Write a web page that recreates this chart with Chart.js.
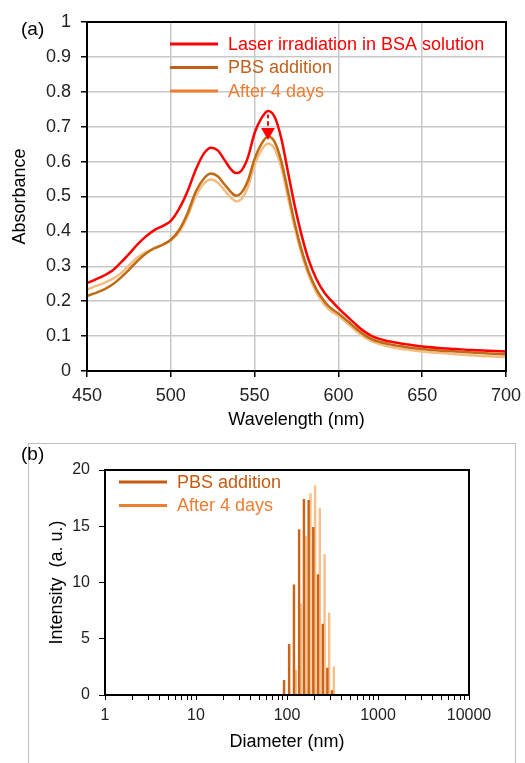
<!DOCTYPE html>
<html>
<head>
<meta charset="utf-8">
<script src="https://cdn.jsdelivr.net/npm/chart.js@4.4.1/dist/chart.umd.min.js"></script>
<style>
  html, body { margin: 0; padding: 0; background: #fff; }
  #wrap { position: relative; width: 525px; height: 763px; overflow: hidden; }
  #boxB { position: absolute; left: 28px; top: 443px; width: 486px; height: 340px; border: 1px solid #BFBFBF; }
  #cA { position: absolute; left: 0; top: 0; }
  #cB { position: absolute; left: 0; top: 440px; }
</style>
</head>
<body>
<div id="wrap">
  <div id="boxB"></div>
  <canvas id="cA" width="525" height="440"></canvas>
  <canvas id="cB" width="525" height="323"></canvas>
</div>
<script>
// ---- (a) absorbance spectra ----
const wavelength = [450, 455, 460, 465, 470, 475, 480, 485, 490, 495, 500, 505, 510, 515, 520, 524, 528, 532, 536, 539, 542, 546, 550, 554, 558, 562, 566, 570, 574, 578, 582, 587, 592, 596, 600, 605, 610, 615, 620, 630, 640, 650, 660, 670, 680, 690, 700]
const laserBSA = [0.252, 0.262, 0.273, 0.287, 0.310, 0.335, 0.362, 0.385, 0.403, 0.415, 0.430, 0.465, 0.515, 0.578, 0.625, 0.640, 0.632, 0.605, 0.577, 0.567, 0.573, 0.612, 0.682, 0.724, 0.745, 0.728, 0.665, 0.568, 0.472, 0.390, 0.322, 0.262, 0.222, 0.200, 0.180, 0.157, 0.135, 0.115, 0.100, 0.085, 0.077, 0.070, 0.066, 0.063, 0.060, 0.058, 0.056]
const pbsAddition = [0.215, 0.223, 0.233, 0.247, 0.267, 0.290, 0.315, 0.336, 0.351, 0.361, 0.376, 0.404, 0.452, 0.515, 0.553, 0.566, 0.558, 0.535, 0.512, 0.502, 0.510, 0.545, 0.608, 0.650, 0.672, 0.656, 0.600, 0.512, 0.422, 0.347, 0.287, 0.233, 0.197, 0.178, 0.165, 0.145, 0.124, 0.105, 0.091, 0.077, 0.069, 0.063, 0.059, 0.056, 0.053, 0.050, 0.048]
const after4Days = [0.233, 0.243, 0.252, 0.263, 0.279, 0.302, 0.325, 0.341, 0.352, 0.362, 0.374, 0.398, 0.443, 0.502, 0.538, 0.549, 0.540, 0.518, 0.496, 0.486, 0.492, 0.527, 0.590, 0.632, 0.652, 0.636, 0.582, 0.496, 0.410, 0.336, 0.277, 0.224, 0.188, 0.170, 0.158, 0.138, 0.117, 0.098, 0.085, 0.070, 0.062, 0.056, 0.052, 0.048, 0.045, 0.042, 0.040]
const arrowWavelength = [558, 558]
const arrowAbsorbance = [0.735, 0.685]

// ---- (b) DLS size distribution ----
const diameters = [95, 108, 122, 139, 157, 177, 199, 224, 253, 284, 320]
const pbsIntensity = [1.3, 4.5, 9.8, 14.7, 17.4, 17.3, 14.9, 10.7, 6.3, 2.4, 0.4]
const after4Intensity = [0, 0, 2.2, 8.1, 14.1, 17.9, 18.6, 16.6, 12.5, 7.3, 2.5]
const diameterTickLabels = [1, 10, 100, 1000, 10000]

const FONT = '"Liberation Sans", Arial, sans-serif'
Chart.defaults.font.family = FONT
Chart.defaults.color = '#222'

const toXY = (xs, ys) => xs.map((x, i) => ({ x, y: ys[i] }))

// frame around the plot, panel letter and an in-plot legend
function makeDecor(cfg) {
  return {
    id: 'decor',
    afterDraw(chart) {
      const { ctx, chartArea: a } = chart
      ctx.save()
      ctx.strokeStyle = '#000'
      ctx.lineWidth = 2
      ctx.strokeRect(a.left, a.top, a.right - a.left, a.bottom - a.top)
      ctx.font = '19px ' + FONT
      ctx.textBaseline = 'middle'
      ctx.textAlign = 'left'
      ctx.fillStyle = '#000'
      ctx.fillText(cfg.label, cfg.labelX, cfg.labelY)
      ctx.font = '18px ' + FONT
      cfg.legend.forEach((item, i) => {
        const y = cfg.legendY + i * cfg.legendGap
        ctx.strokeStyle = item.line
        ctx.lineWidth = 3
        ctx.beginPath()
        ctx.moveTo(cfg.legendX, y)
        ctx.lineTo(cfg.legendX + 48, y)
        ctx.stroke()
        ctx.fillStyle = item.text
        ctx.fillText(chart.data.datasets[item.dataset].label, cfg.legendX + 58, y + 1)
      })
      ctx.restore()
    }
  }
}

// keep the plot edges where the layout padding puts them
const fixX = h => s => { s.height = h; s.paddingLeft = 0; s.paddingRight = 0 }

new Chart(document.getElementById('cA'), {
  type: 'line',
  data: {
    datasets: [
      { label: 'arrow', data: toXY(arrowWavelength, arrowAbsorbance), borderColor: '#FF0000', backgroundColor: '#FF0000',
        borderWidth: 2, borderDash: [4, 3], pointRadius: [0, 6], pointStyle: 'triangle', pointRotation: 180, order: 0 },
      { label: 'Laser irradiation in BSA solution', data: toXY(wavelength, laserBSA), borderColor: '#FF0000', borderWidth: 2.5, order: 1 },
      { label: 'PBS addition', data: toXY(wavelength, pbsAddition), borderColor: '#BF6A14', borderWidth: 2.5, order: 2 },
      { label: 'After 4 days', data: toXY(wavelength, after4Days), borderColor: '#F4BC80', borderWidth: 2.5, order: 3 },
    ],
  },
  options: {
    responsive: false,
    animation: false,
    layout: { padding: { top: 22, right: 19, left: 0, bottom: 0 } },
    elements: { point: { radius: 0 }, line: { cubicInterpolationMode: 'monotone' } },
    scales: {
      x: {
        type: 'linear',
        min: 450,
        max: 700,
        ticks: { stepSize: 50, font: { size: 18 }, padding: 8, maxRotation: 0 },
        grid: { color: '#C8C8C8', lineWidth: 1.5, tickColor: '#000', tickLength: 6 },
        border: { display: false },
        title: { display: true, text: 'Wavelength (nm)', color: '#000', font: { size: 18 }, padding: { top: 0, bottom: 9 } },
        afterFit: fixX(69),
      },
      y: {
        min: 0,
        max: 1,
        ticks: { stepSize: 0.1, font: { size: 18 }, padding: 10, callback: v => String(+v.toFixed(1)) },
        grid: { color: '#C8C8C8', lineWidth: 1.5, tickColor: '#000', tickLength: 6 },
        border: { display: false },
        title: { display: true, text: 'Absorbance', color: '#000', font: { size: 18 }, padding: { top: 9, bottom: 0 } },
        afterFit: s => { s.width = 87 },
      },
    },
    plugins: { legend: { display: false }, tooltip: { enabled: false } },
  },
  plugins: [makeDecor({
    label: '(a)', labelX: 21, labelY: 30,
    legendX: 170, legendY: 44, legendGap: 23.5,
    legend: [
      { dataset: 1, line: '#FF0000', text: '#FF0000' },
      { dataset: 2, line: '#C0601A', text: '#C0601A' },
      { dataset: 3, line: '#ED7D31', text: '#ED7D31' },
    ],
  })],
})

new Chart(document.getElementById('cB'), {
  type: 'bar',
  data: {
    datasets: [
      { label: 'PBS addition', data: toXY(diameters, pbsIntensity), backgroundColor: '#CC6418', barThickness: 1.8 },
      { label: 'After 4 days', data: toXY(diameters, after4Intensity), backgroundColor: '#F7C08A', barThickness: 1.8 },
    ],
  },
  options: {
    responsive: false,
    animation: false,
    layout: { padding: { top: 30, right: 56, left: 0, bottom: 0 } },
    scales: {
      x: {
        type: 'logarithmic',
        min: 1,
        max: 10000,
        offset: false,
        afterBuildTicks: s => {
          s.ticks = s.ticks.filter(t => {
            const m = t.value / Math.pow(10, Math.floor(Math.log10(t.value) + 1e-9))
            return Math.abs(m - Math.round(m)) < 1e-6
          })
        },
        ticks: {
          autoSkip: false, maxRotation: 0, font: { size: 16 }, padding: 6,
          callback: v => diameterTickLabels.includes(v) ? String(v) : '',
        },
        grid: { offset: false, drawOnChartArea: false, tickColor: '#000', tickLength: 5 },
        border: { display: false },
        title: { display: true, text: 'Diameter (nm)', color: '#000', font: { size: 18 }, padding: { top: 0, bottom: 10 } },
        afterFit: fixX(68),
      },
      y: {
        min: 0,
        max: 20,
        ticks: { stepSize: 5, font: { size: 16 }, padding: 9 },
        grid: { drawOnChartArea: false, tickColor: '#000', tickLength: 6 },
        border: { display: false },
        title: { display: true, text: 'Intensity  (a. u.)', color: '#000', font: { size: 18 }, padding: { top: 46, bottom: 0 } },
        afterFit: s => { s.width = 105 },
      },
    },
    plugins: { legend: { display: false }, tooltip: { enabled: false } },
  },
  plugins: [makeDecor({
    label: '(b)', labelX: 21, labelY: 15,
    legendX: 119, legendY: 42, legendGap: 23.5,
    legend: [
      { dataset: 0, line: '#C55A11', text: '#C55A11' },
      { dataset: 1, line: '#ED7D31', text: '#ED7D31' },
    ],
  })],
})
</script>
</body>
</html>
